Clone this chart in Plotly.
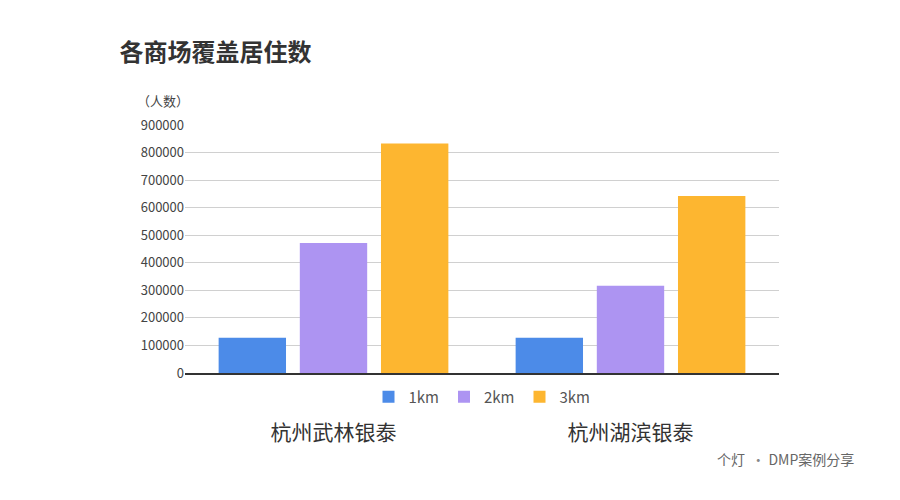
import plotly.graph_objects as go

categories = ["杭州武林银泰", "杭州湖滨银泰"]
series_names = ["1km", "2km", "3km"]
values_1km = [128000, 128000]
values_2km = [472000, 317000]
values_3km = [833000, 642000]
colors = ["#4C8BE8", "#AD94F2", "#FDB630"]
tick_vals = [0, 100000, 200000, 300000, 400000, 500000, 600000, 700000, 800000, 900000]

fig = go.Figure()
for name, vals, c in zip(series_names, [values_1km, values_2km, values_3km], colors):
    fig.add_trace(go.Bar(name=name, x=categories, y=vals, marker_color=c, marker_line_width=0))

font = "Noto Sans CJK SC"
fig.update_layout(
    width=900, height=500,
    paper_bgcolor="white", plot_bgcolor="white",
    font=dict(family=font, color="#333"),
    margin=dict(l=177, r=129, t=117, b=135),
    barmode="group", bargap=0.18, bargroupgap=0.17,
    title=dict(text="<b>各商场覆盖居住数</b>", x=0.124, xanchor="left", y=0.91, yanchor="middle",
               font=dict(size=24, color="#333", family=font)),
    legend=dict(orientation="h", x=0.5, xanchor="center", y=-0.03, yanchor="top",
                font=dict(size=15, color="#555"), itemwidth=30),
    showlegend=True,
    xaxis=dict(showline=True, linecolor="#333", linewidth=1.5, ticks="",
               tickfont=dict(size=21, color="#333"), ticklabelstandoff=40),
    yaxis=dict(range=[0, 900000], tickvals=tick_vals, tickformat="d",
               showgrid=True, gridcolor="#d0d0d0", gridwidth=1, zeroline=False,
               tickfont=dict(size=13, color="#444"), ticks=""),
    annotations=[
        dict(text="（人数）", xref="paper", yref="paper", x=-0.085, y=1.1, xanchor="left",
             yanchor="middle", showarrow=False, font=dict(size=13, color="#444")),
        dict(text="个灯  <span style='color:#888'>•</span> DMP案例分享", xref="paper", yref="paper",
             x=1.13, y=-0.345, xanchor="right", yanchor="middle", showarrow=False,
             font=dict(size=14, color="#666")),
    ],
)
fig.write_html("out.html")
